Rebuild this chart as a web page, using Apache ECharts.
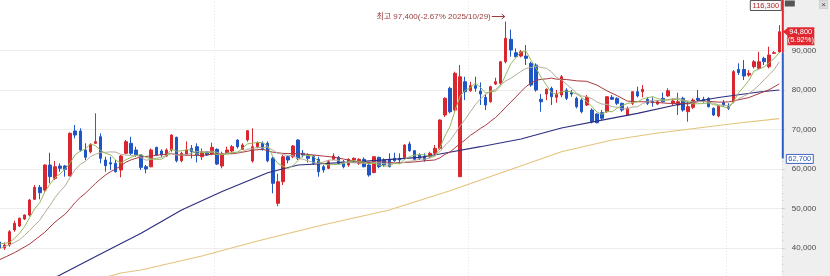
<!DOCTYPE html>
<html><head><meta charset="utf-8">
<script src="https://cdn.jsdelivr.net/npm/echarts@6/dist/echarts.min.js"></script>
<style>html,body{margin:0;padding:0;background:#fff}#c{width:830px;height:276px}</style>
</head><body><div id="c"></div>
<script>
// ---- data ----
const opens = [41500,40000,40750,44560,45570,47350,48360,52340,55380,54700,61030,57650,60780,60780,58250,69650,69650,64830,64400,66530,68200,62300,61620,61460,59770,63990,66530,64830,63560,60600,60600,65510,64580,63310,64830,68050,62120,63740,65250,65670,63130,64400,63820,65000,60780,64150,64580,67370,65000,67370,62050,65670,66530,66530,62730,51330,56800,63130,63130,67370,64000,63300,63300,62480,60600,60190,62480,62980,61870,61030,62300,61460,62480,61030,59120,62980,62300,62480,62730,62730,62980,66350,64660,63560,63130,63130,64000,65250,73700,80470,74970,58070,82140,79860,81130,79780,78190,77070,81560,81730,87200,92890,89490,88650,88650,86800,86370,77680,79020,80470,78190,78770,80040,79360,77930,77500,76240,74970,73960,74300,74540,78190,77930,76670,73700,76670,79610,79610,77680,77070,76490,77930,78520,76670,76240,77930,74540,75650,77930,77680,77930,75400,73450,76830,75810,77070,85270,85270,83840,85950,85530,88060,85950,89330,89700];
const closes = [40000,40750,44130,46260,47530,48360,52160,55380,54010,61030,58070,60600,60190,59940,69060,68630,64830,62980,66280,66950,62730,60860,61290,59330,63310,66940,63990,63560,60440,60020,64830,63560,63560,64830,68630,62120,63990,64830,64400,63560,64400,63560,65510,61280,63820,64830,65670,65670,66100,69720,65670,66700,65250,62120,56400,56800,63130,62300,65850,62730,63560,62730,61460,59330,59770,61870,63310,61460,60600,62480,62730,62480,60600,58500,63130,60600,61030,60600,62120,62300,66100,64660,62480,62730,62300,63990,65250,72430,77930,74540,84270,83410,79610,81130,80470,79020,76240,80880,82140,87200,93140,90170,88480,89740,88060,81300,80040,77070,80210,78340,79020,83410,77930,79020,75810,74540,78190,72000,71750,72870,78340,77680,76670,74970,75400,79610,78520,80210,76670,76830,77070,77070,79860,77250,77070,74970,75810,77500,77500,77250,75810,73700,75970,76240,75400,84690,84460,83580,84270,87200,87210,87210,88900,89500,94800];
const lows = [39700,39500,40330,44130,45300,47100,48000,52160,52340,54270,56400,57230,59330,58070,58250,67800,64400,62300,64000,66400,61460,59330,59770,59130,57910,63800,63560,63130,59770,58930,60440,63300,63130,63130,64400,61700,61700,63500,62700,61700,62300,63300,63560,61030,60200,64000,64000,65250,64830,66950,61620,65250,64660,61700,53860,50580,55960,61460,62730,62300,62990,61700,61030,58070,59120,59980,62300,61290,60190,60600,61870,61030,60440,58070,58930,60190,60600,60440,61870,61460,62730,64400,62300,62300,61870,62730,63560,64830,73200,74130,74540,58070,77500,79610,79610,76250,74970,76830,81300,81300,86780,88480,88310,88310,86370,80880,79610,74540,77500,76250,76830,78190,77500,78340,75400,74130,75970,71580,71580,72430,74300,77500,76240,74540,73450,76240,78190,78190,76240,75810,76240,76830,78340,76240,73700,74540,72000,75240,77070,76830,75650,73450,73110,75810,74970,76670,83840,82560,83410,85520,85270,86370,85520,89150,89500];
const highs = [41800,41350,44560,46920,47700,48500,52400,55960,55960,61200,64150,62050,61460,61030,69300,71170,70330,66530,66530,74130,69060,63130,63130,62300,63560,67370,68200,65670,63800,61030,65240,65670,65000,65250,68800,68200,64400,67000,66100,66530,65250,64580,66700,65250,64400,65670,66100,67540,66530,69890,70330,67000,67000,67000,63130,58830,63560,63560,66100,67540,64830,64000,63560,63130,61030,62300,63990,63310,62300,62730,62980,62730,62980,61460,63310,63130,62730,64000,64150,63990,66280,66950,64830,63990,63990,64400,66100,72600,78200,80880,84690,86370,83410,82140,83410,81970,79020,81130,83160,87400,97400,95350,90600,90170,91440,87220,86800,79020,80470,80880,80040,83840,80470,80040,78340,77930,78770,75400,74130,74970,78510,78770,78190,76830,75810,79780,80880,81300,78190,78190,77500,79360,80470,77930,79360,78340,77070,77930,80040,78340,78190,75650,76240,77500,76670,85100,86800,87630,85100,87630,89740,88480,91020,89910,96500];

// moving averages
const ma5 = [41000,41200,41380,42430,43730,45410,47690,49940,51490,54190,56130,57820,58780,59970,61570,63680,64530,65090,66360,65930,64750,63960,63620,62230,61500,62350,62970,63430,63650,62990,62570,62480,62480,63360,65080,64540,64630,64880,64790,63780,64240,64150,64290,63660,63710,63800,64220,64250,65220,66400,66570,66770,66690,65890,63230,61450,60740,60150,60900,62160,63510,63430,63270,61960,61370,61030,61150,61150,61400,61940,62120,61950,61780,61360,61490,61060,60770,60770,61500,61330,62430,63160,63530,63650,63650,63230,63350,65340,68380,70830,74880,78520,79950,80590,81780,80730,79290,79550,79750,81100,83920,86710,88230,89750,89920,87550,85520,83240,81340,79390,78940,79610,79780,79540,79040,78140,77100,75910,74460,73870,74630,74530,75460,76110,76610,76870,77030,77740,78080,78370,77860,77570,77500,77620,77660,77240,76990,76520,76570,76610,76770,76350,76050,75790,75420,77200,79350,80870,82480,84840,85340,85890,86960,88000,89520];
const ma10 = [39800,40300,40800,41400,42100,43200,44450,45770,47050,48960,50770,52760,54360,55730,57880,59910,61180,61940,63170,63750,64220,64250,64360,64300,63720,63550,63470,63530,62940,62250,62460,62730,62960,63510,64040,63560,63560,63680,64080,64430,64390,64390,64590,64230,63750,64020,64190,64270,64440,65060,65190,65500,65470,65560,64820,64010,63760,63420,63400,62700,62480,62090,61710,61430,61770,62270,62290,62210,61680,61660,61580,61550,61470,61380,61720,61590,61360,61280,61430,61410,61750,61970,62150,62580,62490,62830,63260,64440,66020,67240,69060,70940,72650,74490,76310,77810,78910,79750,80170,81440,82330,83000,83890,84750,85510,85740,86120,85740,85550,84660,83250,82570,81510,80440,79220,78540,78360,77850,77000,76460,76390,75820,75690,75290,75240,75750,75780,76600,77100,77490,77370,77300,77620,77850,78020,77550,77280,77010,77100,77140,77010,76670,76290,76180,76020,76990,77850,78460,79140,80130,81270,82620,83920,85240,87180];
const ma20 = [[0,37000],[3,38800],[6,41000],[9,44000],[10,45290],[11,46530],[12,47580],[13,48570],[14,49990],[15,51560],[16,52820],[17,53860],[18,55110],[19,56360],[20,57500],[21,58510],[22,59360],[23,60020],[24,60800],[25,61730],[26,62330],[27,62740],[28,63060],[30,63340],[32,63660],[34,63880],[36,63520],[38,63510],[40,63430],[42,63780],[44,63900],[46,63880],[48,64260],[50,64790],[52,65030],[54,64290],[56,63980],[58,63920],[60,63840],[62,63590],[64,63300],[66,63030],[68,62540],[70,62030],[72,61590],[74,61750],[76,61830],[78,61560],[80,61670],[82,61810],[84,62110],[86,62310],[87,62860],[88,63730],[89,64330],[90,65410],[91,66460],[92,67400],[93,68540],[94,69400],[95,70320],[96,71090],[97,72100],[98,73100],[99,74340],[100,75700],[101,76970],[102,78270],[103,79620],[104,80910],[105,81780],[106,82520],[107,82750],[108,82860],[109,83050],[110,82790],[112,82700],[114,82370],[116,82240],[118,81280],[120,79820],[122,78600],[124,77230],[126,77070],[128,77050],[130,76880],[132,76660],[134,76630],[136,76530],[138,77100],[140,77190],[142,76960],[144,77020],[146,77570],[148,78120],[150,79140],[152,80110],[154,81600]];
const ma60 = [[4,28000],[12,33160],[20,38480],[28,43720],[36,49630],[44,54320],[53,59080],[59,61030],[71,61870],[83,62980],[87,63820],[95,65670],[103,67620],[111,70410],[119,72430],[126,74130],[134,76360],[142,78140],[150,79530],[154,80040]];
const ma120 = [[14,30000],[24,33670],[28,34430],[40,37970],[51,41770],[63,45570],[77,49630],[89,54520],[99,59000],[111,64400],[121,67370],[130,69140],[138,70410],[146,71680],[154,72810]];

const yTicks = [40000,50000,60000,70000,80000,90000];
const categories = closes.map((_, i) => String(i + 1));
const vGridAt = [43, 93, 144];
const prevClose = 89500, upperLimit = 116300, lowerLimit = 62700;
const lastPrice = 94800, lastChangeText = '(5.92%)';
const peakText = '최고 97,400(-2.67% 2025/10/29)';

// ---- chart ----
const FONT = "'Liberation Sans',Arial,'Noto Sans CJK KR',sans-serif";
const GRID = {left:-3.3, right:48.2, top:-28.2, bottom:-11.46};
const chart = echarts.init(document.getElementById('c'));
const lineS = (name, data, color, w) => ({type:'line', name, data, showSymbol:false, symbol:'none', smooth:false,
  lineStyle:{color, width:w}, itemStyle:{color}, silent:true, z:3});

chart.setOption({
  animation:false,
  backgroundColor:'#efefef',
  grid:Object.assign({show:true, backgroundColor:'#ffffff', borderWidth:0, outerBoundsMode:'none'}, GRID),
  xAxis:{type:'category', data:categories, boundaryGap:true,
    axisLine:{show:false}, axisTick:{show:false}, axisLabel:{show:false},
    splitLine:{show:true, interval:(i)=>vGridAt.includes(i), lineStyle:{color:'#e4e4e4', type:[1,2]}}},
  yAxis:{type:'value', position:'right', min:30000, max:110000, interval:10000,
    axisLine:{show:false},
    axisTick:{show:true, length:3, lineStyle:{color:'#cfcfcf'}},
    minorTick:{show:true, splitNumber:5, length:2, lineStyle:{color:'#dadada'}},
    axisLabel:{margin:10, color:'#4a4a4a', fontSize:8, fontFamily:FONT,
      formatter:v => yTicks.includes(v) ? v.toLocaleString('en-US') : ''},
    splitLine:{show:true, lineStyle:{width:1, color:['transparent','#ececec','#ececec','#ececec','#ececec','#ececec','#ececec','transparent','transparent']}}},
  series:[
    {type:'candlestick', data:opens.map((o,i)=>[o, closes[i], lows[i], highs[i]]), barWidth:3,
      itemStyle:{color:'#d9262f', color0:'#1f55c4', borderColor:'#d9262f', borderColor0:'#1f55c4', borderWidth:1}, z:2},
    lineS('MA120', ma120, '#e3c47c', 1.2),
    lineS('MA60', ma60, '#2c2f7f', 1.2),
    lineS('MA20', ma20, '#a83a42', 1),
    lineS('MA10', ma10, '#b5ab98', 1),
    lineS('MA5', ma5, '#94ba5c', 1)
  ]
});

// ---- overlays positioned through the chart's own scales ----
const yPx = v => chart.convertToPixel({yAxisIndex:0}, v);
const xPx = i => chart.convertToPixel({xAxisIndex:0}, i);
const xr = 830 - GRID.right;
const yPrev = yPx(prevClose), yUp = Math.max(0, yPx(upperLimit)), yLow = yPx(lowerLimit), yLast = yPx(lastPrice);
const peakVal = Math.max(...highs), peakIdx = highs.indexOf(peakVal);
const xPk = xPx(peakIdx), yPk = yPx(peakVal) - 5;
const txt = (x, y, text, fill, size, opts) => ({type:'text', x, y,
  style:Object.assign({text, fill, font:size + 'px ' + FONT, textVerticalAlign:'middle'}, opts||{}), z:20});

chart.setOption({graphic:[
  {type:'rect', shape:{x:xr, y:yUp, width:2, height:yPrev - yUp}, style:{fill:'#e0262e'}, z:15},
  {type:'rect', shape:{x:xr, y:yPrev, width:2, height:yLow - yPrev}, style:{fill:'#2f5fc6'}, z:15},
  // last price tag
  {type:'polygon', shape:{points:[[xr+1, yLast],[xr+6, yLast-4],[xr+6, yLast+4]]}, style:{fill:'#e0262e'}, z:16},
  {type:'rect', shape:{x:xr+5.5, y:yLast-4.5, width:27, height:18}, style:{fill:'#e0262e'}, z:16},
  txt(xr+19, yLast, lastPrice.toLocaleString('en-US'), '#ffffff', 7.5, {textAlign:'center'}),
  txt(xr+19, yLast+8.5, lastChangeText, '#ffffff', 7.5, {textAlign:'center'}),
  // lower limit tag
  {type:'rect', shape:{x:xr+4.5, y:yLow-4, width:27, height:9}, style:{fill:'#ffffff', stroke:'#3f66c0', lineWidth:1}, z:16},
  txt(xr+18, yLow+0.5, lowerLimit.toLocaleString('en-US'), '#2a55b5', 7.5, {textAlign:'center'}),
  // upper limit tag at top
  {type:'rect', shape:{x:xr-31.5, y:0.5, width:31, height:10}, style:{fill:'#f7f7f7', stroke:'#555555', lineWidth:1}, z:16},
  txt(xr-16, 5.8, upperLimit.toLocaleString('en-US'), '#b22a2a', 7.5, {textAlign:'center'}),
  {type:'rect', shape:{x:xr+3, y:0.5, width:10, height:6}, style:{fill:'#555555'}, z:16},
  {type:'rect', shape:{x:819.5, y:0.5, width:8, height:8}, style:{fill:'#dcdcdc', stroke:'#bbbbbb', lineWidth:0.5}, z:16},
  txt(823.5, 4.8, '×', '#444444', 8, {textAlign:'center'}),
  // peak annotation
  txt(xPk - 15, yPk, peakText, '#9a3a3a', 8, {textAlign:'right'}),
  {type:'line', shape:{x1:xPk-14, y1:yPk, x2:xPk-1, y2:yPk}, style:{stroke:'#9a3a3a', lineWidth:1}, z:20},
  {type:'polyline', shape:{points:[[xPk-4, yPk-2.5],[xPk-1, yPk],[xPk-4, yPk+2.5]]}, style:{stroke:'#9a3a3a', lineWidth:1, fill:null}, z:20}
]});
</script>
</body></html>
